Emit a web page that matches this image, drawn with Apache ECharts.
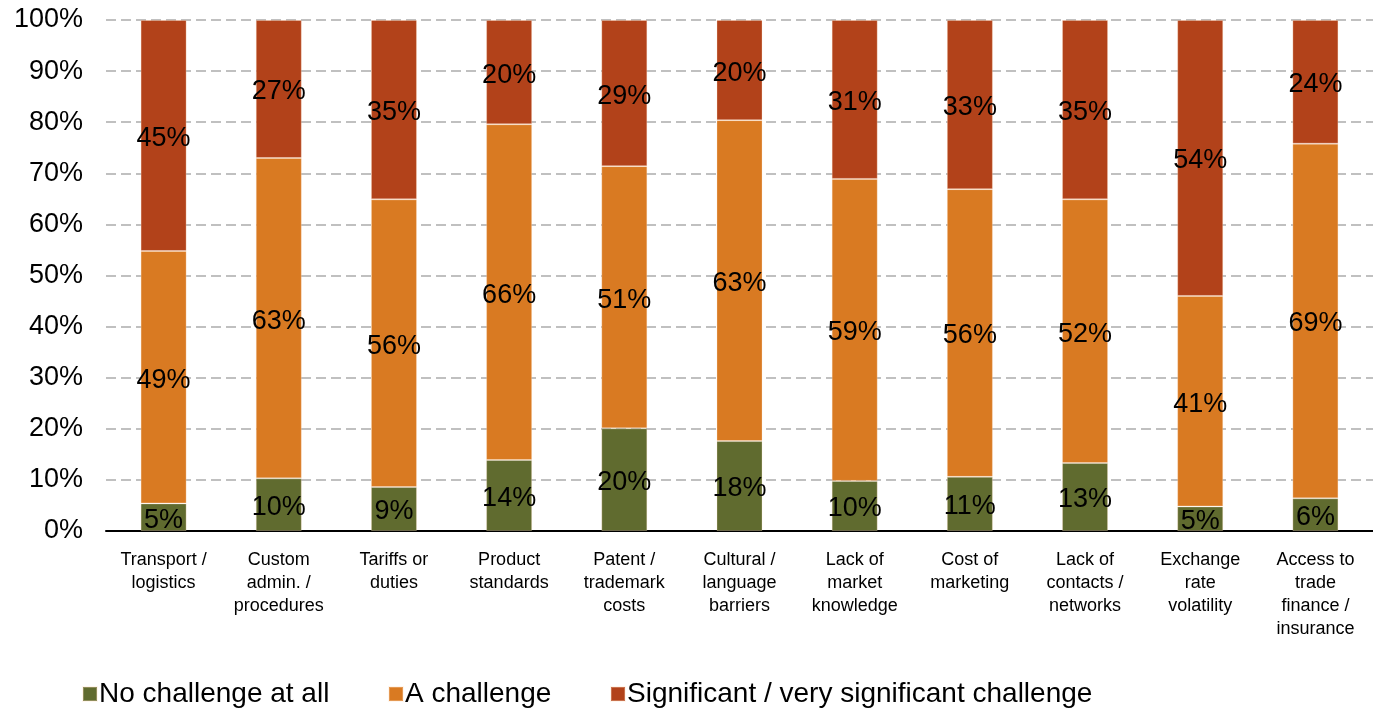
<!DOCTYPE html>
<html>
<head>
<meta charset="utf-8">
<script src="https://cdn.jsdelivr.net/npm/echarts@6/dist/echarts.min.js"></script>
<style>
  html, body { margin: 0; padding: 0; background: #ffffff; }
  #chart { width: 1373px; height: 711px; }
</style>
</head>
<body>
<div id="chart"></div>
<script>
// Export challenges by type: share of respondents per answer (%)
const categories = [
  'Transport /\nlogistics',
  'Custom\nadmin. /\nprocedures',
  'Tariffs or\nduties',
  'Product\nstandards',
  'Patent /\ntrademark\ncosts',
  'Cultural /\nlanguage\nbarriers',
  'Lack of\nmarket\nknowledge',
  'Cost of\nmarketing',
  'Lack of\ncontacts /\nnetworks',
  'Exchange\nrate\nvolatility',
  'Access to\ntrade\nfinance /\ninsurance'
];

const noChallenge   = [5.4, 10.3, 8.6, 13.9, 20.1, 17.6,  9.8, 10.6, 13.3,  4.8,  6.4];
const aChallenge    = [49.4, 62.7, 56.3, 65.7, 51.3, 62.8, 59.1, 56.3, 51.6, 41.2, 69.4];
const significant   = [45.2, 27.0, 35.1, 20.4, 28.6, 19.6, 31.1, 33.1, 35.1, 54.0, 24.2];

const seriesNames = ['No challenge at all', 'A challenge', 'Significant / very significant challenge'];
const yTicks = [0, 10, 20, 30, 40, 50, 60, 70, 80, 90, 100];

const colors = ['#606B2F', '#D97A22', '#B2421A'];
const FONT = "'Liberation Sans', Arial, sans-serif";

const chart = echarts.init(document.getElementById('chart'), null, { renderer: 'canvas' });

function barSeries(name, data, color) {
  return {
    name: name,
    type: 'bar',
    stack: 'total',
    data: data,
    barWidth: 46,
    itemStyle: { color: color, borderColor: 'rgba(255,225,200,0.3)', borderWidth: 1 },
    label: {
      show: true,
      position: 'inside',
      offset: [0, 3],
      color: '#000000',
      fontFamily: FONT,
      fontSize: 27,
      formatter: p => Math.round(p.value) + '%'
    },
    emphasis: { disabled: true }
  };
}

function legendAt(name, left) {
  return {
    data: [name],
    left: left,
    top: 680,
    icon: 'rect',
    itemWidth: 14,
    itemHeight: 14,
    itemGap: 0,
    padding: 0,
    textStyle: { fontFamily: FONT, fontSize: 28, color: '#000000', padding: [0, 0, 0, -3] },
    selectedMode: false
  };
}

chart.setOption({
  backgroundColor: '#ffffff',
  animation: false,
  legend: [
    legendAt(seriesNames[0], 82),
    legendAt(seriesNames[1], 388),
    legendAt(seriesNames[2], 610)
  ],
  grid: { left: 106, top: 20, width: 1276, height: 511, containLabel: false },
  xAxis: {
    type: 'category',
    data: categories,
    axisLine: { show: true, lineStyle: { color: '#000000', width: 2 } },
    axisTick: { show: false },
    axisLabel: {
      interval: 0,
      margin: 18,
      color: '#000000',
      fontFamily: FONT,
      fontSize: 18,
      lineHeight: 23
    }
  },
  yAxis: {
    type: 'value',
    min: yTicks[0],
    max: yTicks[yTicks.length - 1],
    interval: 10,
    axisLine: { show: false },
    axisTick: { show: false },
    splitLine: { show: true, lineStyle: { color: '#C0C0C0', width: 2, type: [10, 5] } },
    axisLabel: {
      margin: 23,
      color: '#000000',
      fontFamily: FONT,
      fontSize: 27,
      padding: [5, 0, 0, 0],
      formatter: v => v + '%'
    }
  },
  series: [
    barSeries(seriesNames[0], noChallenge, colors[0]),
    barSeries(seriesNames[1], aChallenge, colors[1]),
    barSeries(seriesNames[2], significant, colors[2])
  ]
});
</script>
</body>
</html>
